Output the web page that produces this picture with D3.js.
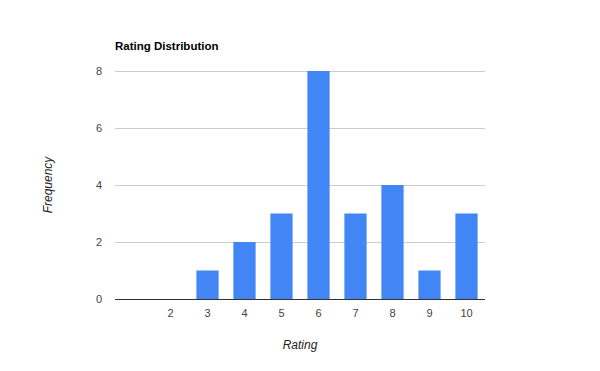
<!DOCTYPE html>
<html>
<head>
<meta charset="utf-8">
<script src="https://cdn.jsdelivr.net/npm/d3@7"></script>
<style>
body { margin: 0; background: #fff; }
text { font-family: "Liberation Sans", Arial, sans-serif; }
</style>
</head>
<body>
<div id="chart"></div>
<script>
// rating buckets, the first slot has no label in the source
var categories = ["", "2", "3", "4", "5", "6", "7", "8", "9", "10"];
var frequency = [0, 0, 1, 2, 3, 8, 3, 4, 1, 3];
var yTicks = [0, 2, 4, 6, 8];

var width = 600, height = 371;
var margin = {top: 71, right: 115, bottom: 72, left: 115};
var innerW = width - margin.left - margin.right;
var innerH = height - margin.top - margin.bottom;

var svg = d3.select("#chart").append("svg")
	.attr("width", width)
	.attr("height", height);

var x = d3.scaleBand()
	.domain(categories.map(function(d, i) { return i; }))
	.range([0, innerW])
	.paddingInner(0.4)
	.paddingOuter(0.2);

var y = d3.scaleLinear()
	.domain([0, 8])
	.range([innerH, 0]);

svg.append("text")
	.attr("x", margin.left)
	.attr("y", 50)
	.attr("font-size", 11.5)
	.attr("font-weight", "bold")
	.attr("fill", "#000")
	.text("Rating Distribution");

var g = svg.append("g")
	.attr("transform", "translate(" + margin.left + "," + margin.top + ")");

// gridlines
g.selectAll(".grid")
	.data(yTicks.filter(function(d) { return d > 0; }))
	.enter().append("line")
	.attr("class", "grid")
	.attr("x1", 0)
	.attr("x2", innerW)
	.attr("y1", function(d) { return Math.round(y(d)) + 0.5; })
	.attr("y2", function(d) { return Math.round(y(d)) + 0.5; })
	.attr("stroke", "#cccccc");

g.selectAll(".ylab")
	.data(yTicks)
	.enter().append("text")
	.attr("class", "ylab")
	.attr("x", -13)
	.attr("y", function(d) { return y(d) + 4; })
	.attr("text-anchor", "end")
	.attr("font-size", 11)
	.attr("fill", "#444")
	.text(function(d) { return d; });

g.selectAll(".bar")
	.data(frequency)
	.enter().append("rect")
	.attr("class", "bar")
	.attr("x", function(d, i) { return x(i); })
	.attr("width", x.bandwidth())
	.attr("y", function(d) { return y(d); })
	.attr("height", function(d) { return innerH - y(d); })
	.attr("fill", "#4285f4");

// baseline
g.append("line")
	.attr("x1", 0)
	.attr("x2", innerW)
	.attr("y1", innerH + 0.5)
	.attr("y2", innerH + 0.5)
	.attr("stroke", "#333");

g.selectAll(".xlab")
	.data(categories)
	.enter().append("text")
	.attr("class", "xlab")
	.attr("x", function(d, i) { return x(i) + x.bandwidth() / 2; })
	.attr("y", innerH + 18)
	.attr("text-anchor", "middle")
	.attr("font-size", 11)
	.attr("fill", "#444")
	.text(function(d) { return d; });

svg.append("text")
	.attr("x", margin.left + innerW / 2)
	.attr("y", 349)
	.attr("text-anchor", "middle")
	.attr("font-size", 12)
	.attr("font-style", "italic")
	.attr("fill", "#222")
	.text("Rating");

svg.append("text")
	.attr("transform", "translate(52," + (margin.top + innerH / 2) + ") rotate(-90)")
	.attr("text-anchor", "middle")
	.attr("font-size", 12)
	.attr("font-style", "italic")
	.attr("fill", "#222")
	.text("Frequency");
</script>
</body>
</html>
